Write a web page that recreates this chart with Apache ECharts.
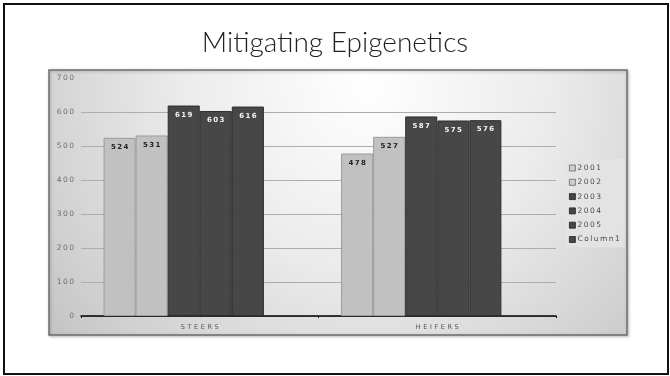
<!DOCTYPE html>
<html>
<head>
<meta charset="utf-8">
<style>
  html, body { margin: 0; padding: 0; background: #fff; }
  #chart { width: 670px; height: 376px; }
</style>
<script src="https://cdn.jsdelivr.net/npm/echarts@6/dist/echarts.min.js"></script>
</head>
<body>
<div id="chart"></div>
<script>
// Chart data
const categories = ['STEERS', 'HEIFERS'];
const seriesNames = ['2001', '2002', '2003', '2004', '2005', 'Column1'];
const values2001 = [524, 478];
const values2002 = [531, 527];
const values2003 = [619, 587];
const values2004 = [603, 575];
const values2005 = [616, 576];
const valuesColumn1 = ['-', '-'];
const yTicks = [0, 100, 200, 300, 400, 500, 600, 700];

const seriesValues = [values2001, values2002, values2003, values2004, values2005, valuesColumn1];

// spread characters apart with thin spaces for the tracked-out look
const spaced = s => String(s).split('').join('\u2009');
const wide = s => String(s).split('').join('\u2009\u2009');

const LIGHT = '#c1c1c1', LIGHT_EDGE = '#9c9c9c';
const DARK = '#474747', DARK_EDGE = '#2e2e2e';
const isLight = i => i < 2;

const chart = echarts.init(document.getElementById('chart'));

const series = seriesNames.map((name, i) => ({
  name: name,
  type: 'bar',
  data: seriesValues[i],
  barGap: '0%',
  barCategoryGap: '19%',
  itemStyle: {
    color: isLight(i) ? LIGHT : DARK,
    borderColor: isLight(i) ? LIGHT_EDGE : DARK_EDGE,
    borderWidth: 1
  },
  label: {
    show: true,
    position: 'insideTop',
    distance: 6,
    fontFamily: 'DejaVu Sans',
    fontWeight: 'bold',
    fontSize: 7,
    color: isLight(i) ? '#1e1e1e' : '#f4f4f4',
    formatter: p => spaced(p.value)
  }
}));

chart.setOption({
  animation: false,
  graphic: [
    {
      type: 'rect',
      z: -10,
      shape: { x: 4, y: 4, width: 664, height: 370 },
      style: { fill: '#ffffff', stroke: '#111', lineWidth: 2 }
    },
    {
      type: 'text',
      left: 'center',
      top: 29,
      style: {
        text: 'Mitigating Epigenetics',
        fontFamily: 'Lato',
        fontWeight: 300,
        fontSize: 28,
        fill: '#222'
      }
    },
    {
      type: 'rect',
      z: -5,
      shape: { x: 49, y: 70, width: 578, height: 265 },
      style: {
        fill: {
          type: 'radial', x: 0.55, y: 0.05, r: 1.55,
          colorStops: [
            { offset: 0, color: '#ffffff' },
            { offset: 0.45, color: '#ebebeb' },
            { offset: 0.8, color: '#d2d2d2' },
            { offset: 1, color: '#c2c2c2' }
          ]
        },
        stroke: '#6e6e6e',
        lineWidth: 1.5,
        shadowColor: 'rgba(0,0,0,0.25)',
        shadowBlur: 3,
        shadowOffsetX: 1,
        shadowOffsetY: 1
      }
    }
  ],
  legend: {
    orient: 'vertical',
    left: 565,
    top: 159,
    width: 58,
    padding: [5, 5, 4, 4],
    backgroundColor: 'rgba(228,228,228,0.85)',
    itemWidth: 6,
    itemHeight: 6,
    itemGap: 6.3,
    icon: 'rect',
    data: seriesNames.map((n, i) => ({
      name: n,
      itemStyle: {
        color: isLight(i) ? '#cfcfcf' : DARK,
        borderColor: isLight(i) ? '#666' : '#222',
        borderWidth: 0.8
      }
    })),
    formatter: n => spaced(n),
    textStyle: {
      fontFamily: 'DejaVu Sans',
      fontSize: 7.5,
      color: '#4a4a4a',
      padding: [0, 0, 0, -3]
    }
  },
  grid: { left: 81, right: 114, top: 78, bottom: 60 },
  xAxis: {
    type: 'category',
    data: categories,
    axisLine: { lineStyle: { color: '#000', width: 1.5 } },
    axisTick: { show: true, length: 2, lineStyle: { color: '#000' } },
    axisLabel: {
      margin: 8,
      fontFamily: 'DejaVu Sans',
      fontSize: 6.5,
      color: '#555',
      formatter: v => wide(v)
    }
  },
  yAxis: {
    type: 'value',
    min: 0,
    max: 700,
    interval: 100,
    axisLine: { show: false },
    axisTick: { show: false },
    axisLabel: {
      margin: 7,
      fontFamily: 'DejaVu Sans',
      fontSize: 7.5,
      color: '#6e6e6e',
      formatter: v => spaced(v)
    },
    splitLine: {
      lineStyle: {
        color: yTicks.map(t => (t === 700 ? 'transparent' : '#adadad')),
        width: 1
      }
    }
  },
  series: series
});
</script>
</body>
</html>
